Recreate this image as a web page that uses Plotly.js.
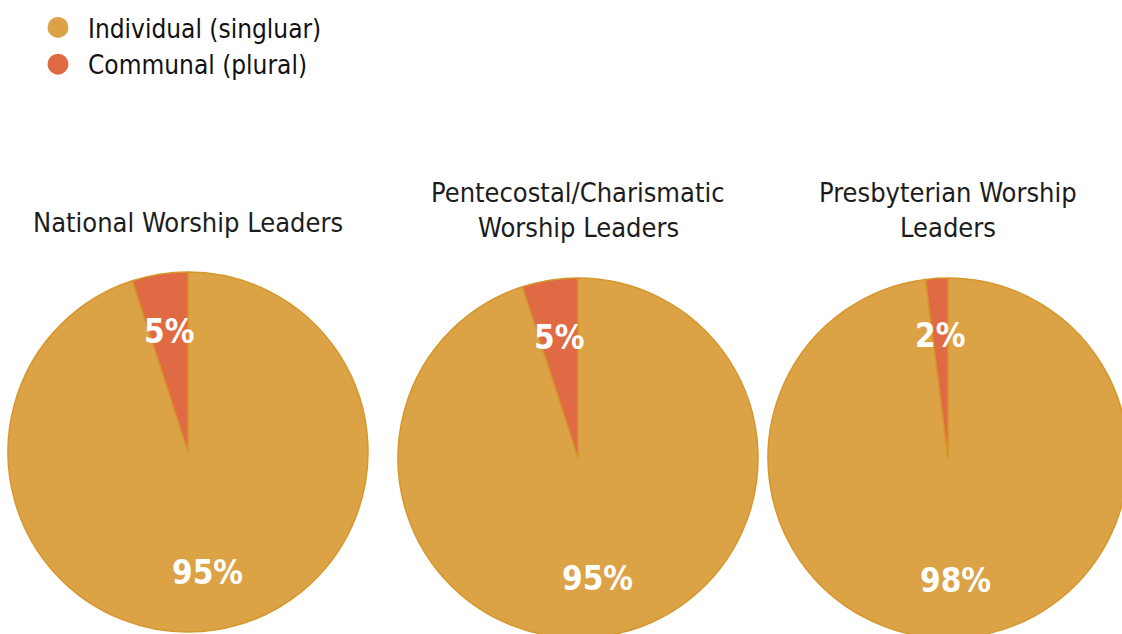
<!DOCTYPE html>
<html>
<head>
<meta charset="utf-8">
<script src="https://cdn.plot.ly/plotly-3.0.1.min.js"></script>
<style>
html, body { margin: 0; padding: 0; overflow: hidden; background: #fff; }
#chart { width: 1140px; height: 640px; }
</style>
</head>
<body>
<div id="chart"></div>
<script>
// ---- data ----
const groups = ["National Worship Leaders", "Pentecostal/Charismatic<br>Worship Leaders", "Presbyterian Worship<br>Leaders"];
const categories = ["Individual (singluar)", "Communal (plural)"];
const individualPct = [95, 95, 98];
const communalPct = [5, 5, 2];

// ---- style / layout ----
const W = 1140, H = 640;
const FONT = '"DejaVu Sans Condensed", "Liberation Sans Narrow", sans-serif';
const colors = ["#DCA246", "#E06A43"];
const lineColor = "#D5972C";
const pies = [
  {cx: 188, cy: 452, r: 180, ty: [222]},
  {cx: 578, cy: 458, r: 180, ty: [193, 228]},
  {cx: 948, cy: 458, r: 180, ty: [193, 228]}
];

const data = [];
const annotations = [];
pies.forEach((p, i) => {
  const vals = [individualPct[i], communalPct[i]];
  data.push({
    type: "pie",
    labels: categories,
    values: vals,
    sort: false,
    direction: "clockwise",
    rotation: 0,
    textinfo: "none",
    hoverinfo: "label+percent",
    showlegend: false,
    marker: {colors: colors, line: {color: lineColor, width: 1.5}},
    domain: {
      x: [(p.cx - p.r) / W, (p.cx + p.r) / W],
      y: [1 - (p.cy + p.r) / H, 1 - (p.cy - p.r) / H]
    }
  });
  // percentage labels placed along each slice's mid-angle
  const total = vals.reduce((a, b) => a + b, 0);
  let cum = 0;
  vals.forEach(v => {
    const mid = (cum + v / 2) / total * 2 * Math.PI;
    cum += v;
    const px = p.cx + 0.68 * p.r * Math.sin(mid);
    const py = p.cy - 0.68 * p.r * Math.cos(mid);
    annotations.push({
      xref: "paper", yref: "paper", x: px / W, y: 1 - py / H,
      xanchor: "center", yanchor: "middle", showarrow: false,
      text: Math.round(v / total * 100) + "%",
      font: {family: FONT, size: 33, color: "#ffffff", weight: "bold"}
    });
  });
  // group titles
  const lines = groups[i].split("<br>");
  lines.forEach((t, k) => {
    annotations.push({
      xref: "paper", yref: "paper", x: p.cx / W, y: 1 - p.ty[k] / H,
      xanchor: "center", yanchor: "middle", showarrow: false,
      text: t, font: {family: FONT, size: 27, color: "#1c1c1c"}
    });
  });
});

// legend entries
categories.forEach((c, k) => {
  data.push({
    type: "scatter", mode: "markers", x: [null], y: [null], name: c,
    marker: {symbol: "circle", size: 16, color: colors[k], line: {color: colors[k], width: 5}},
    hoverinfo: "skip", showlegend: true
  });
});

const layout = {
  width: W, height: H,
  margin: {l: 0, r: 0, t: 0, b: 0},
  paper_bgcolor: "#ffffff", plot_bgcolor: "#ffffff",
  xaxis: {visible: false}, yaxis: {visible: false},
  showlegend: true,
  legend: {
    x: 28 / W, y: 1 - 4 / H, xanchor: "left", yanchor: "top",
    itemwidth: 50,
    font: {family: FONT, size: 26, color: "#111111"},
    tracegroupgap: 0, bgcolor: "rgba(0,0,0,0)"
  },
  annotations: annotations
};

Plotly.newPlot("chart", data, layout, {displayModeBar: false, staticPlot: true});
</script>
</body>
</html>
